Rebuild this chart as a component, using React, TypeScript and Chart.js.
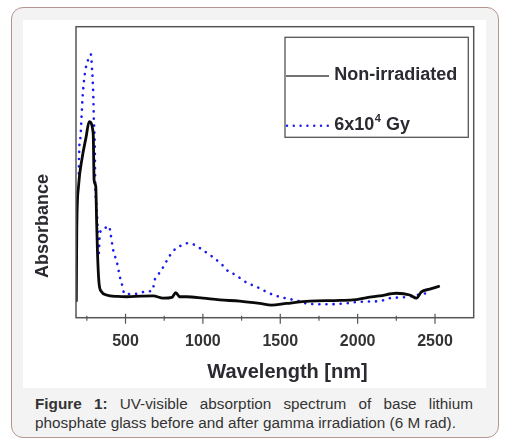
import React, { useEffect, useRef } from "react";
import { Chart, registerables } from "chart.js";

Chart.register(...registerables);

// Wavelength (nm) and absorbance (arbitrary units, 0–100 of the plot height)
const nonIrrWavelength = [182, 185, 196, 220, 245, 265, 291, 297, 308, 313, 319, 329, 345, 377, 450, 506, 600, 678, 743, 800, 825, 850, 894, 1001, 1109, 1238, 1367, 1443, 1540, 1690, 1850, 1970, 2060, 2143, 2251, 2337, 2380, 2412, 2466, 2531];
const nonIrrAbsorbance = [5.5, 30, 45, 55, 62, 67.4, 63.4, 47.3, 45, 33.6, 22.2, 11.8, 8.9, 7.8, 7.3, 7.2, 7.4, 7.5, 6.7, 7.0, 8.6, 7.2, 7.2, 6.7, 6.1, 5.7, 4.9, 4.3, 4.9, 5.7, 5.9, 6.1, 6.9, 7.5, 8.4, 7.8, 6.7, 8.9, 9.8, 10.9];

const irrWavelength = [198, 200, 209, 216, 222, 231, 243, 258, 276, 284, 291, 295, 302, 304, 313, 319, 323, 326, 334, 362, 394, 403, 420, 446, 463, 481, 492, 528, 582, 631, 678, 683, 707, 739, 769, 804, 846, 898, 948, 997, 1055, 1120, 1163, 1212, 1266, 1320, 1367, 1421, 1475, 1518, 1621, 1669, 1798, 1917, 2025, 2143, 2207, 2293, 2444];
const irrAbsorbance = [49.6, 56.5, 62.2, 69, 75.4, 81.1, 85.7, 88.6, 90.5, 85.1, 77.7, 69, 57, 47.3, 38.1, 31.9, 24.4, 21, 29, 30.7, 31.5, 29, 23.3, 18.7, 14.1, 10.7, 8.2, 8.1, 8.3, 9.0, 9.5, 11.8, 14.4, 17, 19.8, 22.7, 24.4, 25.6, 25, 23.3, 21.2, 18.4, 16, 14.7, 12.6, 11.2, 10.1, 8.6, 7.5, 6.9, 5.7, 4.9, 4.6, 4.9, 5.5, 5.7, 6.7, 7.0, 8.4];

const xMajorTicks = [500, 1000, 1500, 2000, 2500];
const xMinorTicks = [250, 750, 1250, 1750, 2250];
const legendLabels = ["Non-irradiated", "6x10|4| Gy"];
const xTitle = "Wavelength [nm]";
const yTitle = "Absorbance";

const FONT = "'Liberation Sans', Arial, sans-serif";
const TEXT = "#2a2a30";
const BLUE = "#1a1af2";

const overlay = {
  id: "overlay",
  afterDatasetsDraw(chart: any) {
    const { ctx, chartArea: a, scales } = chart;
    const xs = scales.x;
    ctx.save();
    // frame
    ctx.strokeStyle = "#555";
    ctx.lineWidth = 1.5;
    ctx.strokeRect(a.left, a.top, a.right - a.left, a.bottom - a.top);
    // ticks crossing the bottom axis
    ctx.lineWidth = 1.2;
    xMajorTicks.forEach((v) => {
      const px = xs.getPixelForValue(v);
      ctx.beginPath();
      ctx.moveTo(px, a.bottom - 4);
      ctx.lineTo(px, a.bottom + 6);
      ctx.stroke();
    });
    xMinorTicks.forEach((v) => {
      const px = xs.getPixelForValue(v);
      ctx.beginPath();
      ctx.moveTo(px, a.bottom - 2);
      ctx.lineTo(px, a.bottom + 3);
      ctx.stroke();
    });
    // legend box
    ctx.strokeStyle = "#555";
    ctx.lineWidth = 1.3;
    ctx.strokeRect(262, 17.3, 183.3, 100);
    ctx.strokeStyle = "#444";
    ctx.lineWidth = 1.5;
    ctx.beginPath();
    ctx.moveTo(263, 56);
    ctx.lineTo(306, 56);
    ctx.stroke();
    ctx.fillStyle = BLUE;
    for (let x = 264; x <= 306; x += 6.8) {
      ctx.beginPath();
      ctx.arc(x, 105.7, 1.2, 0, Math.PI * 2);
      ctx.fill();
    }
    ctx.fillStyle = TEXT;
    ctx.font = `bold 18px ${FONT}`;
    ctx.textBaseline = "middle";
    ctx.textAlign = "left";
    ctx.fillText(legendLabels[0], 311.3, 55.5);
    const parts = legendLabels[1].split("|");
    let tx = 311.3;
    ctx.fillText(parts[0], tx, 105.5);
    tx += ctx.measureText(parts[0]).width;
    ctx.font = `bold 11px ${FONT}`;
    ctx.fillText(parts[1], tx + 0.5, 99);
    tx += ctx.measureText(parts[1]).width + 0.5;
    ctx.font = `bold 18px ${FONT}`;
    ctx.fillText(parts[2], tx, 105.5);
    // axis titles
    ctx.textAlign = "center";
    ctx.font = `bold 20px ${FONT}`;
    ctx.fillText(xTitle, 264.5, 352.7);
    ctx.translate(20.5, 206);
    ctx.rotate(-Math.PI / 2);
    ctx.font = `bold 18px ${FONT}`;
    ctx.fillText(yTitle, 0, 0);
    ctx.restore();
  },
};

function ChartCanvas() {
  const ref = useRef<HTMLCanvasElement | null>(null);
  useEffect(() => {
    if (!ref.current) return;
    const chart = new Chart(ref.current, {
      type: "line",
      data: {
        datasets: [
          {
            label: legendLabels[0],
            data: nonIrrWavelength.map((x, i) => ({ x, y: nonIrrAbsorbance[i] })),
            borderColor: "#0a0a0a",
            borderWidth: 2.8,
            pointRadius: 0,
            cubicInterpolationMode: "monotone",
          },
          {
            label: legendLabels[1],
            data: irrWavelength.map((x, i) => ({ x, y: irrAbsorbance[i] })),
            borderColor: BLUE,
            borderWidth: 2.6,
            borderDash: [0.1, 7],
            borderCapStyle: "round",
            pointRadius: 0,
            cubicInterpolationMode: "monotone",
          },
        ],
      },
      options: {
        animation: false,
        responsive: false,
        maintainAspectRatio: false,
        layout: { padding: { left: 53, top: 6.7, right: 12.3, bottom: 0 } },
        plugins: { legend: { display: false }, tooltip: { enabled: false } },
        scales: {
          x: {
            type: "linear",
            min: 180,
            max: 2750,
            afterBuildTicks: (scale: any) => {
              scale.ticks = xMajorTicks.map((v) => ({ value: v }));
            },
            afterFit: (scale: any) => {
              scale.height = 70.3;
            },
            border: { display: false },
            grid: { display: false, drawTicks: false, tickLength: 0 },
            ticks: {
              padding: 14,
              color: "#333",
              font: { family: FONT, size: 16, weight: "bold" },
              maxRotation: 0,
              autoSkip: false,
              callback: (v: any) => String(v),
            },
          },
          y: {
            display: false,
            min: 0,
            max: 100,
          },
        },
      },
      plugins: [overlay],
    } as any);
    return () => chart.destroy();
  }, []);
  return <canvas ref={ref} width={463} height={368} style={{ display: "block", width: 463, height: 368 }} />;
}

export default function App() {
  return (
    <div style={{ position: "absolute", left: 0, top: 0, width: 507, height: 444, background: "#fff" }}>
      <div
        style={{
          position: "absolute",
          left: 11,
          top: 7,
          width: 486,
          height: 429,
          border: "1.5px solid #b5958f",
          borderRadius: 12,
          background: "#f3f3f3",
        }}
      />
      <div style={{ position: "absolute", left: 23, top: 20, width: 463, height: 368, background: "#fff" }}>
        <ChartCanvas />
      </div>
      <div
        style={{
          position: "absolute",
          left: 35,
          top: 394,
          width: 438,
          fontFamily: FONT,
          fontSize: 15.3,
          lineHeight: "19px",
          color: "#333",
          textAlign: "justify",
        }}
      >
        <b>Figure 1:</b> UV-visible absorption spectrum of base lithium phosphate glass before and after gamma irradiation (6 M rad).
      </div>
    </div>
  );
}
